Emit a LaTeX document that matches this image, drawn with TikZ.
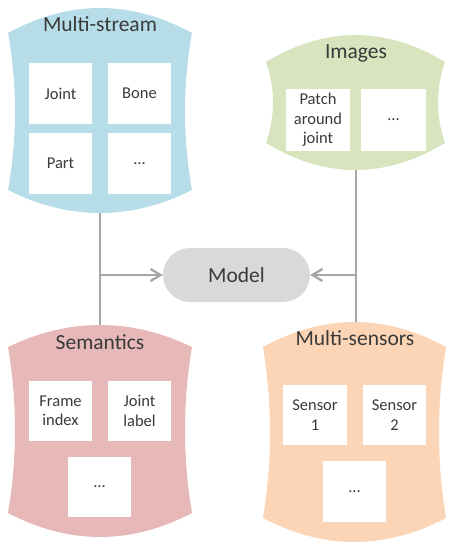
\documentclass[tikz,border=0pt]{standalone}
\usepackage{fontspec}
\setmainfont{Carlito}
\usetikzlibrary{arrows.meta,calc}
\definecolor{cblue}{HTML}{B7DDE8}
\definecolor{cgreen}{HTML}{D7E4BD}
\definecolor{cpink}{HTML}{E6B9B8}
\definecolor{corange}{HTML}{FBD5B5}
\definecolor{cmodel}{HTML}{D9D9D9}
\definecolor{cline}{HTML}{A6A6A6}
\definecolor{ctext}{HTML}{3A3A3A}
% #1 fill, #2 xl, #3 xr, #4 top corner y, #5 top peak y, #6 bottom corner y, #7 bottom peak y
\newcommand\wavyshape[7]{%
  \pgfmathsetmacro\wsw{(#3-#2)/3}%
  \pgfmathsetmacro\wstd{(#4-#5)/0.75}%
  \pgfmathsetmacro\wsbd{(#7-#6)/0.75}%
  \pgfmathsetmacro\wsh{(#6-#4)/3}%
  \pgfmathsetmacro\wsi{7/0.75}%
  \fill[#1] (#2,#4)
    .. controls (#2+\wsw,#4-\wstd) and (#3-\wsw,#4-\wstd) .. (#3,#4)
    .. controls (#3-\wsi,#4+\wsh) and (#3-\wsi,#6-\wsh) .. (#3,#6)
    .. controls (#3-\wsw,#6+\wsbd) and (#2+\wsw,#6+\wsbd) .. (#2,#6)
    .. controls (#2+\wsi,#6-\wsh) and (#2+\wsi,#4+\wsh) .. cycle;}
\tikzset{
  title/.style={anchor=base,text=ctext,font=\fontsize{21.5}{25}\selectfont,inner sep=0pt},
  item/.style={fill=white,text=ctext,align=center,inner sep=0pt,
    font=\fontsize{16.5}{19.5}\selectfont},
  conn/.style={draw=cline,line width=2.3pt},
  arr/.style={conn,-{Straight Barb[length=10pt,width=12pt,line width=2.3pt]}}
}
\begin{document}
\begin{tikzpicture}[x=1pt,y=-1pt]
\useasboundingbox (0,0) rectangle (453,550);
% connectors (behind shapes)
\coordinate (msb) at (100,212);
\coordinate (semt) at (100,326);
\coordinate (imb) at (356,169);
\coordinate (mst) at (356,323);
\node[fill=cmodel,rounded corners=27pt,minimum width=147pt,minimum height=54pt,
  text=ctext,font=\fontsize{21.5}{25}\selectfont,inner sep=0pt] (model) at (236.5,275) {Model};
\draw[conn] (msb) -- (semt);
\draw[conn] (imb) -- (mst);
\draw[arr] (msb |- model.west) -- (model.west);
\draw[arr] (imb |- model.east) -- (model.east);
% shapes
\wavyshape{cblue}{8}{192}{33}{8}{190}{213}
\wavyshape{cpink}{8}{192}{347}{325}{513}{537}
\wavyshape{cgreen}{266}{445}{62}{35}{143}{170}
\wavyshape{corange}{263}{446}{347}{322}{518}{542}
% titles
\node[title] (tms) at (100,31.7) {Multi-stream};
\node[title] (tsem) at (100,349.5) {Semantics};
\node[title] (tim) at (356,58) {Images};
\node[title] (tsen) at (355,345.5) {Multi-sensors};
% Multi-stream items
\node[item,minimum width=63pt,minimum height=61pt] (joint) at (60.5,93.5) {Joint};
\node[item,minimum width=63pt,minimum height=61pt] (bone) at (139.5,93.5) {Bone};
\node[item,minimum width=63pt,minimum height=61pt] (part) at (60.5,163.5) {Part};
\node[item,minimum width=63pt,minimum height=61pt] (msdots) at (139.5,163.5) {...};
% Semantics items
\node[item,minimum width=63pt,minimum height=60pt] (frame) at (60.5,411) {Frame\\index};
\node[item,minimum width=63pt,minimum height=60pt] (jlabel) at (139.5,411) {Joint\\label};
\node[item,minimum width=63pt,minimum height=60pt] (semdots) at (99.5,487) {...};
% Images items
\node[item,minimum width=64pt,minimum height=62pt] (patch) at (318,120) {Patch\\around\\joint};
\node[item,minimum width=65pt,minimum height=62pt] (imdots) at (393.5,120) {...};
% Multi-sensors items
\node[item,minimum width=64pt,minimum height=60pt] (s1) at (315,415) {Sensor\\1};
\node[item,minimum width=63pt,minimum height=60pt] (s2) at (394.5,415) {Sensor\\2};
\node[item,minimum width=63pt,minimum height=61pt] (sendots) at (354.5,491.5) {...};
\end{tikzpicture}
\end{document}
